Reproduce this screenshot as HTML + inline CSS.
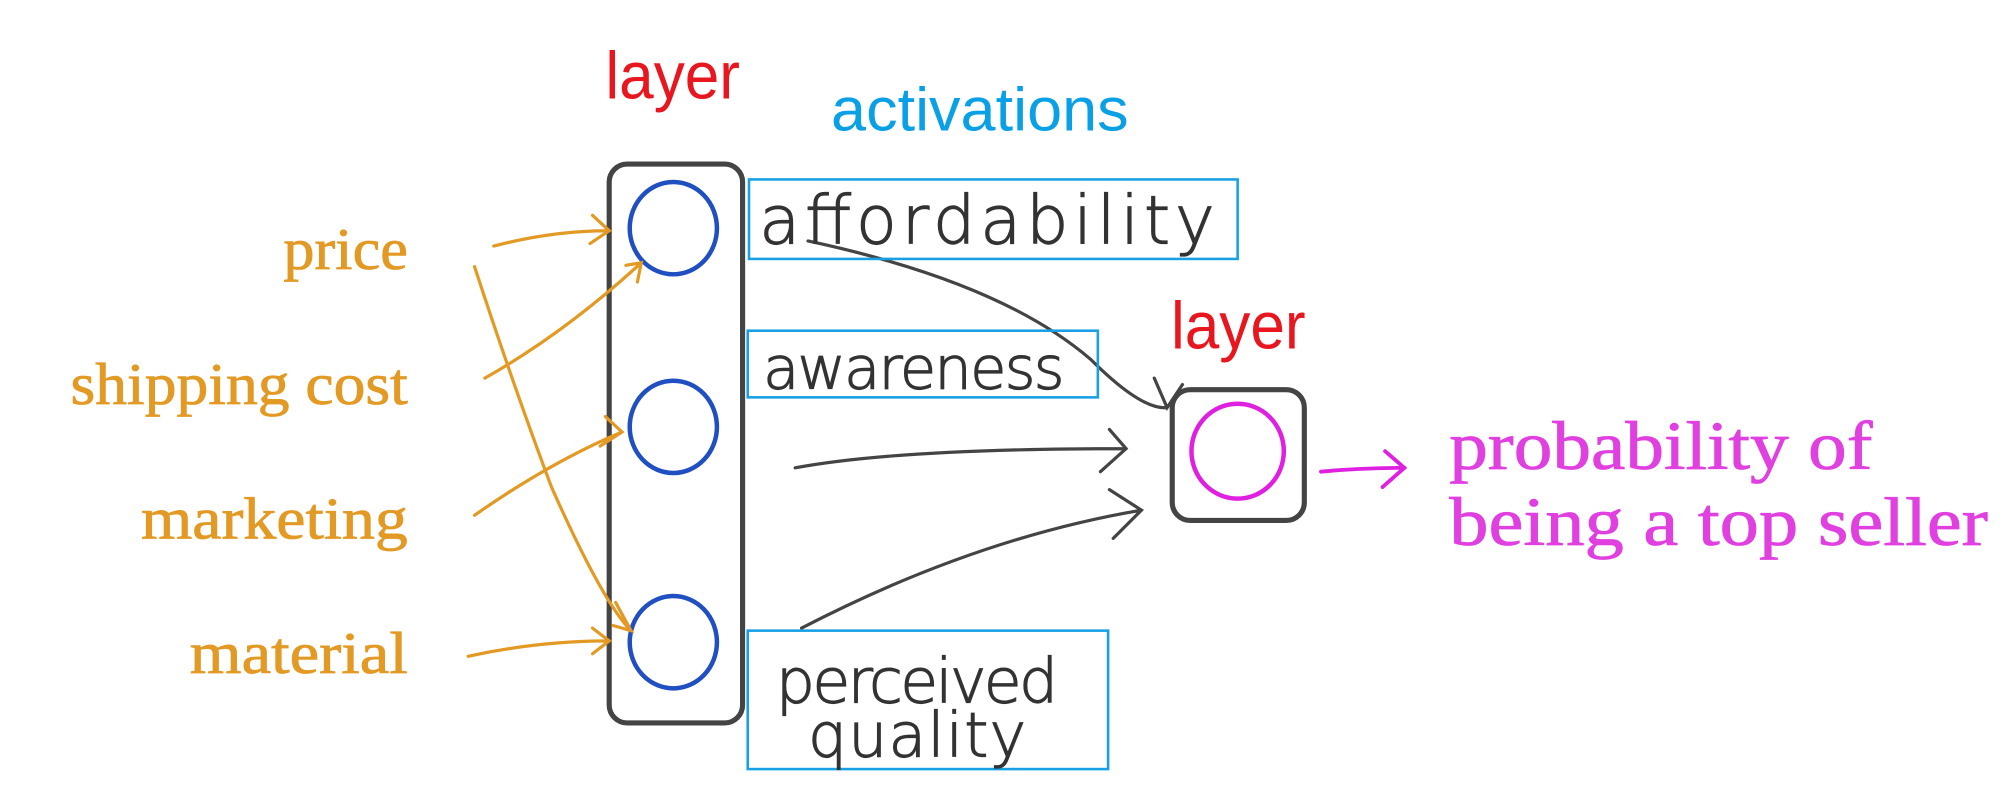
<!DOCTYPE html>
<html><head><style>html,body{margin:0;padding:0;background:#fff}svg{display:block}</style></head>
<body>
<svg width="2011" height="796" viewBox="0 0 1568 621" preserveAspectRatio="none" xmlns="http://www.w3.org/2000/svg">
<rect x="0" y="0" width="1568" height="621" fill="#fff"/>
<text x="472" y="77" font-family="Liberation Sans, sans-serif" font-size="52" fill="#e8161e" textLength="105" lengthAdjust="spacingAndGlyphs">layer</text>
<text x="648" y="102" font-family="Liberation Sans, sans-serif" font-size="48" fill="#0aa0e6" textLength="232" lengthAdjust="spacingAndGlyphs">activations</text>
<text x="913" y="272" font-family="Liberation Sans, sans-serif" font-size="52" fill="#e8161e" textLength="105" lengthAdjust="spacingAndGlyphs">layer</text>
<g font-family="Liberation Serif, serif" font-size="46" fill="#e39a24" text-anchor="end" stroke="#e39a24" stroke-width="0.6">
<text x="318" y="210" textLength="97" lengthAdjust="spacingAndGlyphs">price</text>
<text x="318" y="315" textLength="263" lengthAdjust="spacingAndGlyphs">shipping cost</text>
<text x="318" y="420" textLength="208" lengthAdjust="spacingAndGlyphs">marketing</text>
<text x="318" y="525" textLength="170" lengthAdjust="spacingAndGlyphs">material</text>
</g>
<rect x="475" y="128" width="104" height="436" rx="14" fill="none" stroke="#444" stroke-width="4"/>
<g fill="none" stroke="#1f4fc0" stroke-width="3.5">
<ellipse cx="525" cy="178" rx="34" ry="36"/>
<ellipse cx="525" cy="333" rx="34" ry="36"/>
<ellipse cx="525" cy="501" rx="34" ry="36"/>
</g>
<rect x="914" y="304" width="103" height="102" rx="14" fill="none" stroke="#444" stroke-width="4"/>
<ellipse cx="965" cy="352" rx="36" ry="37" fill="none" stroke="#e020e0" stroke-width="3.5"/>
<g fill="none" stroke="#e39a24" stroke-width="2.5" stroke-linecap="round">
<path d="M385 192 Q430 180 475 180 M462 168 L475 180 L460 190"/>
<path d="M378 295 Q440 260 500 205 M488 207 L500 205 L497 220"/>
<path d="M370 402 Q430 360 485 337 M472 325 L485 337 L468 348"/>
<path d="M365 512 Q420 500 475 500 M462 490 L475 500 L462 510"/>
<path d="M370 208 Q400 300 430 380 Q470 470 492 492 M480 470 L492 492 L478 488"/>
</g>
<g fill="none" stroke="#444" stroke-width="2.5" stroke-linecap="round">
<path d="M630 188 Q780 220 850 280 Q890 320 910 318 M900 295 L910 318 L922 300"/>
<path d="M620 365 Q700 350 878 350 M865 335 L878 350 L858 368"/>
<path d="M625 490 Q760 420 890 398 M865 382 L890 398 L868 420"/>
</g>
<path d="M1030 368 Q1060 365 1095 365 M1080 352 L1095 365 L1078 380" fill="none" stroke="#e020e0" stroke-width="3" stroke-linecap="round"/>
<g font-family="Liberation Serif, serif" font-size="54" fill="#e040e0" stroke="#e040e0" stroke-width="0.6">
<text x="1130" y="366" textLength="330" lengthAdjust="spacingAndGlyphs">probability of</text>
<text x="1130" y="425" textLength="420" lengthAdjust="spacingAndGlyphs">being a top seller</text>
</g>
<g fill="none" stroke="#18a0e4" stroke-width="2">
<rect x="584" y="140" width="381" height="62"/>
<rect x="583" y="258" width="273" height="52"/>
<rect x="583" y="492" width="281" height="108"/>
</g>
<g font-family="DejaVu Sans, sans-serif" fill="#333" stroke="#333" stroke-width="0.9" font-weight="300">
<text x="592" y="190" font-size="52" textLength="355">affordability</text>
<text x="595" y="303" font-size="46" textLength="235">awareness</text>
<text x="605" y="548" font-size="48" textLength="220">perceived</text>
<text x="630" y="590" font-size="48" textLength="170">quality</text>
</g>
</svg>
</body></html>
